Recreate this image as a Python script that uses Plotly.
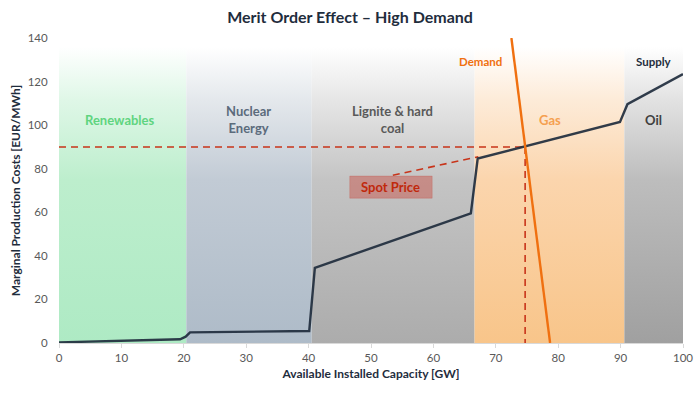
import plotly.graph_objects as go

# ---- data ----
supply_x = [0, 5, 10, 15, 19.4, 20.3, 21.0, 40.1, 41.0, 66.0, 67.1, 89.9, 91.1, 100]
supply_y = [0.3, 0.6, 1.0, 1.4, 1.7, 2.9, 4.9, 5.5, 34.5, 59.5, 84.7, 101.5, 109.6, 123.4]
demand_x = [72.5, 78.7]
demand_y = [140, 0]
spot_price = 90
spot_capacity = 74.7

band_names = ["Renewables", "Nuclear<br>Energy", "Lignite & hard<br>coal", "Gas", "Oil"]
band_start = [0, 20.4, 40.5, 66.6, 90.6]
band_end = [20.4, 40.5, 66.6, 90.6, 100]
band_label_x = [9.8, 30.3, 53.5, 78.7, 95.2]
band_label_y = [102.5, 102.5, 102.5, 102.5, 102.5]

x_ticks = [0, 10, 20, 30, 40, 50, 60, 70, 80, 90, 100]
y_ticks = [0, 20, 40, 60, 80, 100, 120, 140]

# ---- styles ----
band_colors = [
    ["#aeeac4", "#bdeecd", "#dff7e7"],
    ["#aebbc8", "#c2cbd5", "#e4e8ec"],
    ["#acacac", "#c4c4c4", "#e6e6e6"],
    ["#f8c58a", "#fbd5ad", "#fdebd8"],
    ["#a0a0a0", "#bdbdbd", "#e2e2e2"],
]
label_colors = ["#5fd47f", "#5b6b7c", "#595959", "#f5a050", "#404040"]
FONT = "Lato"

fig = go.Figure()

for name, x0, x1, cols in zip(band_names, band_start, band_end, band_colors):
    fig.add_trace(go.Scatter(
        x=[x0, x1, x1, x0, x0], y=[0, 0, 136, 136, 0],
        mode="lines", line=dict(width=0), fill="toself",
        fillgradient=dict(type="vertical", start=0, stop=136,
                          colorscale=[[0, cols[0]], [0.55, cols[1]], [0.82, cols[2]], [1, "#ffffff"]]),
        hoverinfo="skip", showlegend=False))

# spot price dashed lines
red = "#c8341a"
fig.add_trace(go.Scatter(x=[0, spot_capacity], y=[spot_price, spot_price], mode="lines",
                         line=dict(color=red, width=1.6, dash="7px,5px"), hoverinfo="skip", showlegend=False))
fig.add_trace(go.Scatter(x=[spot_capacity, spot_capacity], y=[spot_price, 0], mode="lines",
                         line=dict(color=red, width=1.6, dash="7px,5px"), hoverinfo="skip", showlegend=False))
fig.add_trace(go.Scatter(x=[53.5, 67.2], y=[77, 85.5], mode="lines",
                         line=dict(color=red, width=1.6, dash="7px,5px"), hoverinfo="skip", showlegend=False))

# supply curve
fig.add_trace(go.Scatter(x=supply_x, y=supply_y, mode="lines",
                         line=dict(color="rgba(31,45,61,0.92)", width=2.4), hoverinfo="skip", showlegend=False))
# demand
fig.add_trace(go.Scatter(x=demand_x, y=demand_y, mode="lines",
                         line=dict(color="#f07010", width=2.4), hoverinfo="skip", showlegend=False))

# spot price box
fig.add_shape(type="rect", x0=46.6, x1=59.8, y0=66.5, y1=76.6, xref="x", yref="y",
              fillcolor="rgba(200,85,75,0.5)", line=dict(color="rgba(200,85,75,0.3)", width=1))
fig.add_annotation(x=53.2, y=71.5, text="<b>Spot Price</b>", showarrow=False,
                   font=dict(family=FONT, size=13, color="#c0280c"))

for name, lx, ly, c in zip(band_names, band_label_x, band_label_y, label_colors):
    fig.add_annotation(x=lx, y=ly, text="<b>" + name + "</b>", showarrow=False,
                       font=dict(family=FONT, size=13, color=c), align="center")

fig.add_annotation(x=67.5, y=129, text="<b>Demand</b>", showarrow=False,
                   font=dict(family=FONT, size=11.5, color="#f07010"))
fig.add_annotation(x=95.4, y=129, text="<b>Supply</b>", showarrow=False,
                   font=dict(family=FONT, size=11.5, color="#1f2d3d"))

fig.update_layout(
    width=700, height=393,
    margin=dict(l=59, r=17, t=38, b=50, autoexpand=False),
    paper_bgcolor="white", plot_bgcolor="white",
    title=dict(text="<b>Merit Order Effect – High Demand</b>", x=0.5, xanchor="center",
               y=0.955, yanchor="middle", font=dict(family=FONT, size=16, color="#1f2d3d")),
    font=dict(family=FONT, color="#595959"),
    xaxis=dict(range=[0, 100], tickvals=x_ticks, showgrid=False, zeroline=False,
               showline=True, linecolor="#d9d9d9", linewidth=1, automargin=False,
               ticks="outside", ticklen=4, tickcolor="#d9d9d9",
               tickfont=dict(family=FONT, size=11.5, color="#595959"),
               title=dict(text="<b>Available Installed Capacity [GW]</b>", standoff=6,
                          font=dict(family=FONT, size=12, color="#1f2d3d"))),
    yaxis=dict(range=[0, 140], tickvals=y_ticks, showgrid=False, zeroline=False,
               showline=False, ticks="outside", ticklen=8, tickcolor="rgba(0,0,0,0)",
               automargin=False,
               tickfont=dict(family=FONT, size=11.5, color="#595959"),
               title=dict(text="<b>Marginal Production Costs [EUR/MWh]</b>", standoff=4,
                          font=dict(family=FONT, size=12, color="#1f2d3d"))),
)

fig.write_html("out.html", config={"displayModeBar": False, "responsive": False},
               post_script="document.body.style.margin='0';")
